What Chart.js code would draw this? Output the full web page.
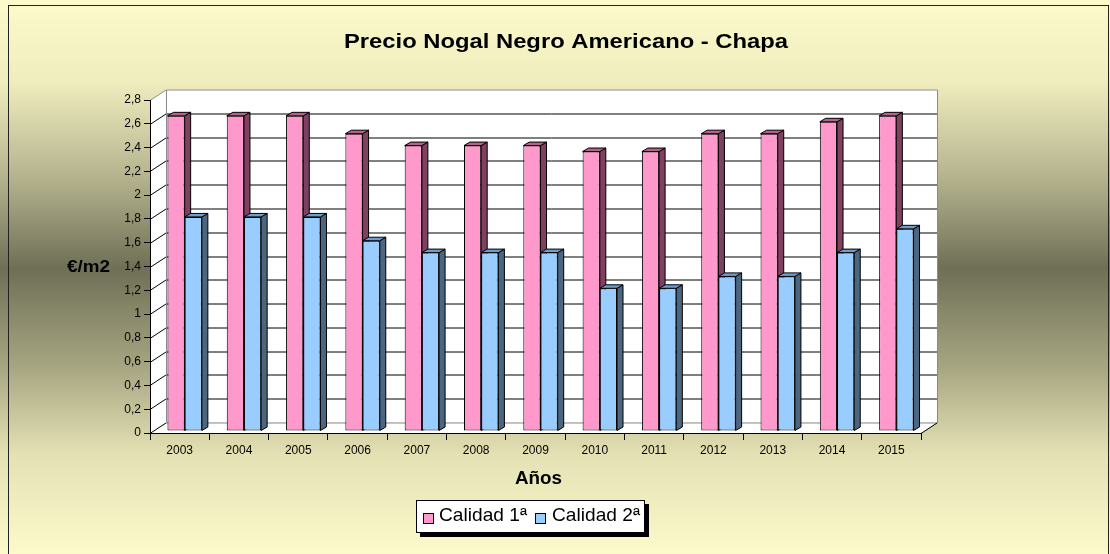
<!DOCTYPE html>
<html><head><meta charset="utf-8">
<script src="https://cdn.jsdelivr.net/npm/chart.js@4.4.0/dist/chart.umd.min.js"></script>
<style>html,body{margin:0;padding:0;background:#fff}canvas{display:block}</style>
</head><body>
<canvas id="c" width="1110" height="554"></canvas>
<script>
// ---- data ----
const years = ['2003','2004','2005','2006','2007','2008','2009','2010','2011','2012','2013','2014','2015'];
const calidad1 = [2.65,2.65,2.65,2.5,2.4,2.4,2.4,2.35,2.35,2.5,2.5,2.6,2.65];
const calidad2 = [1.8,1.8,1.8,1.6,1.5,1.5,1.5,1.2,1.2,1.3,1.3,1.5,1.7];
const seriesNames = ['Calidad 1ª','Calidad 2ª'];
const chartTitle = 'Precio Nogal Negro Americano - Chapa';
const xTitle = 'Años';
const yTitle = '€/m2';
const yMin = 0, yMax = 2.8, yStep = 0.2;

// ---- style ----
const FONT = '"Liberation Sans", Arial, sans-serif';
const DEPTH = {x:16, y:-10.5};
const BAR_SHIFT = {x:5, y:-2};
const BAR_DEPTH = {x:6, y:-3.5};
const FRONT = ['#FF99CC','#99CCFF'];
const SIDE = ['#804060','#4D6680'];
const TOP = ['#B8608C','#6E9CCB'];

function fmt(v){ return (Math.round(v*10)/10).toString().replace('.', ','); }

function stretchedText(ctx, text, x, y, font, targetW, align){
  ctx.save();
  ctx.font = font;
  const w = ctx.measureText(text).width;
  const s = targetW ? targetW / w : 1;
  ctx.translate(x, y);
  ctx.scale(s, 1);
  ctx.textAlign = align || 'center';
  ctx.textBaseline = 'alphabetic';
  ctx.fillStyle = '#000';
  ctx.fillText(text, 0, 0);
  ctx.restore();
}

function poly(ctx, pts, fill, stroke){
  ctx.beginPath();
  ctx.moveTo(pts[0][0], pts[0][1]);
  for (let i=1;i<pts.length;i++) ctx.lineTo(pts[i][0], pts[i][1]);
  ctx.closePath();
  if (fill){ ctx.fillStyle = fill; ctx.fill(); }
  if (stroke){ ctx.strokeStyle = stroke; ctx.lineWidth = 1; ctx.stroke(); }
}

const decor = {
  id: 'decor',
  beforeDraw(chart){
    const ctx = chart.ctx, W = chart.width, H = chart.height;
    ctx.save();
    const g = ctx.createLinearGradient(0, 5, 0, H);
    g.addColorStop(0.00, '#FCFACA');
    g.addColorStop(0.14, '#EFEDBE');
    g.addColorStop(0.32, '#B2B18C');
    g.addColorStop(0.48, '#6F6F56');
    g.addColorStop(0.66, '#A7A682');
    g.addColorStop(0.82, '#E4E2B4');
    g.addColorStop(1.00, '#FCFACB');
    ctx.fillStyle = g;
    ctx.fillRect(0, 0, W, H);
    ctx.strokeStyle = '#222';
    ctx.lineWidth = 1;
    ctx.strokeRect(8.5, 5.5, 1100, 600);

    // 3D walls
    const a = chart.chartArea, ys = chart.scales.y;
    const L=a.left, R=a.right, T=a.top, B=a.bottom, dx=DEPTH.x, dy=DEPTH.y;
    poly(ctx, [[L+dx,T+dy],[R+dx,T+dy],[R+dx,B+dy],[L+dx,B+dy]], '#fff');
    poly(ctx, [[L,T],[L+dx,T+dy],[L+dx,B+dy],[L,B]], '#fff');
    poly(ctx, [[L,B],[L+dx,B+dy],[R+dx,B+dy],[R,B]], '#fff');
    ctx.lineWidth = 1;
    ys.ticks.forEach(t => {
      const y = Math.round(ys.getPixelForValue(t.value));
      if (t.value > yMin + 1e-9 && t.value < yMax - 1e-9){
        ctx.strokeStyle = '#000';
        ctx.beginPath(); ctx.moveTo(L+dx, y+dy+0.5); ctx.lineTo(R+dx, y+dy+0.5); ctx.stroke();
      }
      ctx.strokeStyle = t.value >= yMax - 1e-9 ? '#8a8a8a' : '#000';
      ctx.beginPath(); ctx.moveTo(L, y+0.5); ctx.lineTo(L+dx, y+dy+0.5); ctx.stroke();
    });
    ctx.strokeStyle = '#8a8a8a';
    ctx.beginPath();
    ctx.moveTo(L+dx+0.5, B+dy); ctx.lineTo(L+dx+0.5, T+dy+0.5); ctx.lineTo(R+dx+0.5, T+dy+0.5); ctx.lineTo(R+dx+0.5, B+dy+0.5);
    ctx.lineTo(L+dx, B+dy+0.5);
    ctx.stroke();
    ctx.strokeStyle = '#000';
    ctx.beginPath(); ctx.moveTo(R, B+0.5); ctx.lineTo(R+dx, B+dy+0.5); ctx.stroke();
    ctx.restore();
  },
  beforeDatasetsDraw(chart){
    const ctx = chart.ctx;
    chart.data.datasets.forEach((ds, i) => {
      const meta = chart.getDatasetMeta(i);
      ctx.save();
      ctx.translate(BAR_SHIFT.x, BAR_SHIFT.y);
      meta.controller.draw();
      meta.data.forEach(el => {
        const l = el.x - el.width/2, r = el.x + el.width/2, t = el.y, b = el.base;
        const dx = BAR_DEPTH.x, dy = BAR_DEPTH.y;
        poly(ctx, [[r,t],[r+dx,t+dy],[r+dx,b+dy],[r,b]], SIDE[i], '#000');
        poly(ctx, [[l,t],[l+dx,t+dy],[r+dx,t+dy],[r,t]], TOP[i], '#000');
      });
      ctx.restore();
    });
    return false;
  },
  afterDraw(chart){
    const ctx = chart.ctx;
    // title
    stretchedText(ctx, chartTitle, 566, 48, 'bold 21px ' + FONT, 444);
    // axis titles
    stretchedText(ctx, xTitle, 538.5, 484, 'bold 18px ' + FONT, 47);
    stretchedText(ctx, yTitle, 67, 272, 'bold 16px ' + FONT, 43, 'left');
    // legend
    ctx.save();
    ctx.fillStyle = '#000';
    ctx.fillRect(420, 504, 229, 33);
    ctx.fillStyle = '#fff';
    ctx.fillRect(416, 500, 229, 33);
    ctx.strokeStyle = '#000'; ctx.lineWidth = 1;
    ctx.strokeRect(416.5, 500.5, 228, 32);
    const sw = [423, 535], tx = [439, 552];
    seriesNames.forEach((n, i) => {
      ctx.fillStyle = FRONT[i];
      ctx.fillRect(sw[i]+0.5, 513.5, 10, 10);
      ctx.strokeStyle = '#000';
      ctx.strokeRect(sw[i]+0.5, 513.5, 10, 10);
      stretchedText(ctx, n, tx[i], 521, '19px ' + FONT, 88, 'left');
    });
    ctx.restore();
  }
};

new Chart(document.getElementById('c'), {
  type: 'bar',
  data: {
    labels: years,
    datasets: [
      { label: seriesNames[0], data: calidad1, backgroundColor: FRONT[0], borderColor: '#000', borderWidth: 1, borderSkipped: false, clip: false },
      { label: seriesNames[1], data: calidad2, backgroundColor: FRONT[1], borderColor: '#000', borderWidth: 1, borderSkipped: false, clip: false }
    ]
  },
  options: {
    responsive: false,
    animation: false,
    devicePixelRatio: 1,
    layout: { padding: { left: 0, top: 100, right: 189, bottom: 0 } },
    datasets: { bar: { categoryPercentage: 0.58, barPercentage: 1.0 } },
    plugins: { legend: { display: false }, title: { display: false }, tooltip: { enabled: false } },
    scales: {
      x: {
        grid: { offset: true, drawOnChartArea: false, drawTicks: true, tickLength: 7, tickColor: '#000', tickWidth: 1 },
        border: { display: true, color: '#000', width: 1 },
        ticks: { color: '#000', font: { family: FONT, size: 12 }, padding: 3, maxRotation: 0, autoSkip: false },
        afterFit(s){ s.height = 121; }
      },
      y: {
        min: yMin, max: yMax,
        grid: { drawOnChartArea: false, drawTicks: true, tickLength: 6, tickColor: '#000' },
        border: { display: true, color: '#000', width: 1 },
        ticks: { stepSize: yStep, color: '#000', font: { family: FONT, size: 12 }, padding: 3, callback: v => fmt(v) },
        afterFit(s){ s.width = 150; }
      }
    }
  },
  plugins: [decor]
});
</script>
</body></html>
